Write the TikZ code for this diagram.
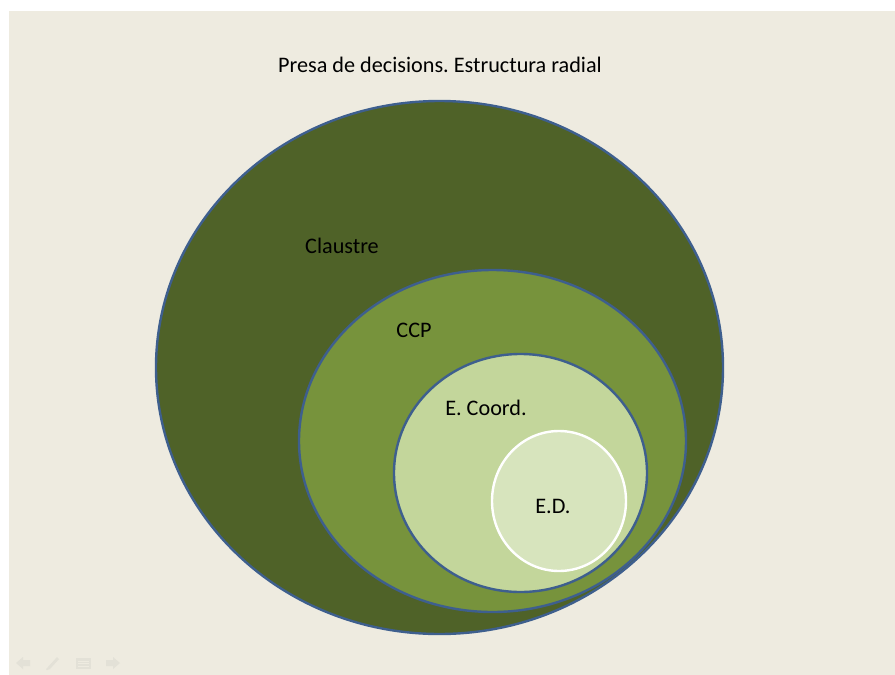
\documentclass[tikz,border=0pt]{standalone}
\usepackage{fontspec}
\setmainfont{Carlito}
\frenchspacing
\definecolor{bgtan}{HTML}{EEEBE0}
\definecolor{olivedark}{HTML}{4F6228}
\definecolor{olivemid}{HTML}{77933C}
\definecolor{olivelight}{HTML}{C3D69B}
\definecolor{olivepale}{HTML}{D7E4BD}
\definecolor{edgeblue}{HTML}{3E5F8E}
\definecolor{navgray}{HTML}{E3E1D7}
\begin{document}
\begin{tikzpicture}[x=1pt,y=-1pt,
  ring/.style={draw=edgeblue,line width=2.4pt},
  lbl/.style={font=\fontsize{22.2}{26}\selectfont,text=black,inner sep=0pt},
  nav/.style={fill=navgray,draw=none}]
\useasboundingbox (0,0) rectangle (895,675);
\fill[white] (0,0) rectangle (895,675);
\fill[bgtan] (9,11) rectangle (895,675);
% ellipses
\path[ring,fill=olivedark] (439.5,367.5) ellipse [x radius=283.5,y radius=266.5];
\path[ring,fill=olivemid] (492.5,441) ellipse [x radius=193.5,y radius=171];
\path[ring,fill=olivelight] (520.5,473) ellipse [x radius=126.5,y radius=119];
\path[draw=white,line width=2.4pt,fill=olivepale] (559,501) ellipse [x radius=67,y radius=70];
% labels
\node[lbl] (title) at (440,65) {Presa de decisions. Estructura radial};
\node[lbl] (claustre) at (342,246) {Claustre};
\node[lbl] (ccp) at (414,330) {CCP};
\node[lbl] (ecoord) at (486,408) {E. Coord.};
\node[lbl] (ed) at (553,506) {E.D.};
% faint navigation icons
\path[nav] (16,663) -- (23,657) -- (23,660) -- (30,660) -- (30,666) -- (23,666) -- (23,669) -- cycle;
\path[nav] (46,669) -- (48,667) -- (57,657) -- (59,659) -- (50,669) -- (47,670) -- cycle;
\path[nav] (76,658) rectangle (91,669);
\draw[bgtan,line width=0.8pt] (78,661) -- (89,661) (78,663.5) -- (89,663.5) (78,666) -- (89,666);
\path[nav] (120,663) -- (113,657) -- (113,660) -- (106,660) -- (106,666) -- (113,666) -- (113,669) -- cycle;
\end{tikzpicture}
\end{document}
